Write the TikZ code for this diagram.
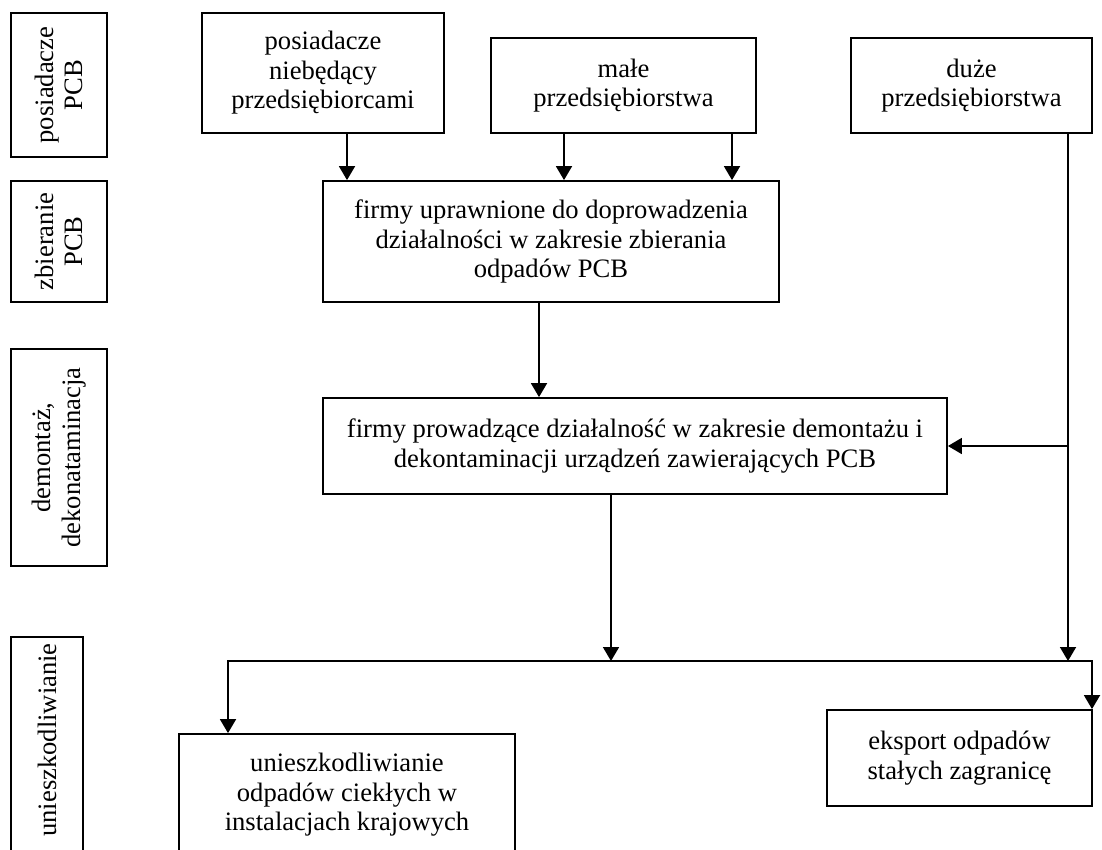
\documentclass[tikz,border=0pt]{standalone}
\usepackage{fontspec}
\setmainfont{Liberation Serif}
\usepackage{tikz}
\usetikzlibrary{arrows.meta}

\begin{document}
\begin{tikzpicture}[x=0.5pt,y=-0.5pt,
    box/.style={draw,line width=0.9pt,inner sep=0pt,align=center,
        font=\fontsize{13.3}{14.75}\selectfont},
    arr/.style={line width=0.9pt,-{Triangle[length=7pt,width=8pt]}},
    twoarr/.style={line width=0.9pt,{Triangle[length=7pt,width=8pt]}-{Triangle[length=7pt,width=8pt]}}]
    \clip (0,0) rectangle (1102,850);

    % Stage labels
    \node[box,rotate=90,minimum width=72pt,minimum height=48pt] (lblOwn) at (59,85) {posiadacze\\PCB};
    \node[box,rotate=90,minimum width=60.5pt,minimum height=48pt] (lblCollect) at (59,241.5) {zbieranie\\PCB};
    \node[box,rotate=90,minimum width=108.5pt,minimum height=48pt] (lblDismantle) at (59,457.5) {demontaż,\\dekonataminacja};
    \node[box,rotate=90,minimum width=111.5pt,minimum height=36pt] (lblDispose) at (47,748.5) {\hspace*{8.5pt}unieszkodliwianie};

    % Holders
    \node[box,minimum width=121pt,minimum height=60pt] (own) at (323,73) {posiadacze\\niebędący\\przedsiębiorcami};
    \node[box,minimum width=132.5pt,minimum height=47.5pt] (small) at (623.5,85.5) {małe\\przedsiębiorstwa};
    \node[box,minimum width=120.5pt,minimum height=47.5pt] (large) at (971.5,85.5) {duże\\przedsiębiorstwa};

    % Firms
    \node[box,minimum width=228pt,minimum height=60.5pt] (collect) at (551,241.5) {firmy uprawnione do doprowadzenia\\działalności w zakresie zbierania\\odpadów PCB};
    \node[box,minimum width=312pt,minimum height=48pt] (dismantle) at (635,446) {firmy prowadzące działalność w zakresie demontażu i\\dekontaminacji urządzeń zawierających PCB};

    % Disposal
    \node[box,minimum width=168pt,minimum height=61pt] (liquid) at (347,795) {unieszkodliwianie\\odpadów ciekłych w\\instalacjach krajowych};
    \node[box,minimum width=132.5pt,minimum height=48pt] (export) at (959.5,758) {eksport odpadów\\stałych zagranicę};

    % Arrow columns and bus line
    \coordinate (c1) at (347,0);
    \coordinate (c2) at (564,0);
    \coordinate (c3) at (732,0);
    \coordinate (c4) at (539,0);
    \coordinate (c5) at (611,0);
    \coordinate (c6) at (1068,0);
    \coordinate (busL) at (228,661);
    \coordinate (busR) at (1092,661);

    \draw[arr] (own.south -| c1) -- (collect.north -| c1);
    \draw[arr] (small.south -| c2) -- (collect.north -| c2);
    \draw[arr] (small.south -| c3) -- (collect.north -| c3);
    \draw[arr] (collect.south -| c4) -- (dismantle.north -| c4);
    \draw[arr] (large.south -| c6) -- (busR -| c6);
    \draw[arr] (dismantle.east -| c6) -- (dismantle.east);
    \draw[arr] (dismantle.south -| c5) -- (busL -| c5);
    \draw[twoarr] (liquid.north -| busL) -- (busL) -- (busR) -- (busR |- export.north);
\end{tikzpicture}
\end{document}
